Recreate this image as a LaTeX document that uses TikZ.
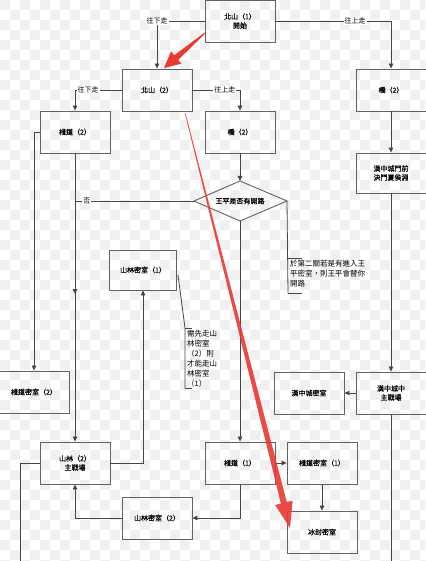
\documentclass[tikz,border=0pt]{standalone}
\usepackage{fontspec}
\newfontfamily\cjk{Noto Sans CJK TC}
\newfontfamily\cjkb[FakeBold=0.4]{Noto Sans CJK TC}
\usetikzlibrary{arrows.meta}
\definecolor{annot}{RGB}{232,58,52}
\definecolor{chk}{RGB}{240,240,240}
\definecolor{ln}{RGB}{70,70,70}
\tikzset{
  box/.style={draw=ln!85, line width=0.9pt, minimum width=70pt, minimum height=42pt, inner sep=1pt, align=center, font=\cjkb\fontsize{7}{9}\selectfont},
  conn/.style={draw=ln, line width=0.8pt},
  arr/.style={conn, -{Triangle[length=5pt,width=4.5pt]}},
  lbl/.style={fill=white, inner sep=1pt, font=\cjk\fontsize{7}{8}\selectfont},
  note/.style={inner sep=0pt, align=left, font=\cjk\fontsize{7.5}{10}\selectfont},
}
\begin{document}
\begin{tikzpicture}[x=1pt,y=-1pt]
\useasboundingbox (0,0) rectangle (425,561);
\fill[white] (0,0) rectangle (425,561);
\begin{scope}
\clip (0,0) rectangle (425,561);
\foreach \x in {0,20,...,420} \foreach \y in {0,20,...,560} {
  \fill[chk] (\x,\y) rectangle ++(10,10);
  \fill[chk] (\x+10,\y+10) rectangle ++(10,10);
}
\end{scope}

% boxes
\node[box] (n1) at (240,21) {北山（1）\\開始};
\node[box] (n2) at (157,90) {北山（2）};
\node[box] (q2r) at (391,90) {橋（2）};
\node[box] (z2) at (75,132) {棧道（2）};
\node[box] (q2m) at (240,132) {橋（2）};
\node[box, minimum height=40pt] (hmq) at (391,173) {漢中城門前\\決鬥夏侯淵};
\node[box, minimum width=67pt, minimum height=40pt] (slm1) at (143,270) {山林密室（1）};
\node[box] (z2m) at (34,392) {棧道密室（2）};
\node[box] (hcm) at (309,393) {漢中城密室};
\node[box] (hcz) at (391,393) {漢中城中\\主戰場};
\node[box] (sl2) at (75,463) {山林（2）\\主戰場};
\node[box] (z1) at (240,463) {棧道（1）};
\node[box] (z1m) at (322,463) {棧道密室（1）};
\node[box] (slm2) at (157,518) {山林密室（2）};
\node[box] (bf) at (322,532) {冰封密室};

% decision diamond
\coordinate (dtop) at (240,181);
\coordinate (dbot) at (240,221);
\coordinate (dleft) at (194,201);
\coordinate (dright) at (287,201);
\draw[draw=ln!85, line width=0.9pt] (dtop) -- (dright) -- (dbot) -- (dleft) -- cycle;
\node[inner sep=0pt, font=\cjkb\fontsize{7}{8}\selectfont] (dia) at (240,201) {王平是否有開路};

% helper coordinates
\coordinate (nojoin) at (75,201);
\coordinate (midarr) at (75,294);
\coordinate (bl) at (20,561);
\coordinate (br) at (391,561);
\coordinate (c1t) at (288,258);
\coordinate (c1b) at (288,293);
\coordinate (c1ta) at (302,258);
\coordinate (c1ba) at (302,293);
\coordinate (slm1r) at (178,275);
\coordinate (c2t) at (185,328);
\coordinate (c2b) at (185,388);
\coordinate (c2ta) at (192,328);
\coordinate (c2ba) at (192,388);

% connectors
\draw[arr] (n1.west) -| node[lbl, pos=0.5] {往下走} (n2.north);
\draw[arr] (n1.east) -| node[lbl, pos=0.345] {往上走} (q2r.north);
\draw[arr] (n2.west) -| node[lbl, pos=0.36] {往下走} (z2.north);
\draw[arr] (n2.east) -| node[lbl, pos=0.34] {往上走} (q2m.north);
\draw[arr] (z2.west) -| (z2m.north);
\draw[arr] (z2.south) -- (sl2.north);
\draw[arr] (q2m.south) -- (dtop);
\draw[conn] (dleft) -- node[lbl, pos=0.9] {否} (nojoin);
\draw[arr] (nojoin) -- (midarr);
\draw[arr] (dbot) -- (z1.north);
\draw[conn] (dright) -- (c1b);
\draw[conn] (c1t) -- (c1ta);
\draw[conn] (c1b) -- (c1ba);
\node[note, anchor=north west] (note1) at (290,260) {於第二關若是有進入王\\平密室，則王平會替你\\開路};
\draw[conn] (slm1r) -- (c2t) -- (c2b);
\draw[conn] (c2t) -- (c2ta);
\draw[conn] (c2b) -- (c2ba);
\node[note, anchor=north west] (note2) at (187,330) {需先走山\\林密室\\（2）則\\才能走山\\林密室\\（1）};
\draw[arr] (sl2.east) -| (slm1.south);
\draw[conn] (sl2.west) -| (bl);
\draw[arr] (slm2.west) -| (sl2.south);
\draw[arr] (z1.south) |- (slm2.east);
\draw[arr] (z1.east) -- (z1m.west);
\draw[arr] (z1m.south) -- (bf.north);
\draw[arr] (q2r.south) -- (hmq.north);
\draw[arr] (hmq.south) -- (hcz.north);
\draw[arr] (hcz.west) -- (hcm.east);
\draw[conn] (hcz.south) -- (br);

% red annotation arrows
\fill[annot] (205.3,33.4) -- (178.2,59.9) -- (181.4,63.7) -- (164,68) -- (171,51.5) -- (174.2,55.3) -- (204.7,32.6) -- cycle;
\fill[annot, opacity=0.9] (185.4,113) -- (286.8,502.1) -- (292.6,500.6) -- (290,528) -- (275.1,505.0) -- (280.9,503.5) -- (184.8,113.1) -- cycle;
\end{tikzpicture}
\end{document}
